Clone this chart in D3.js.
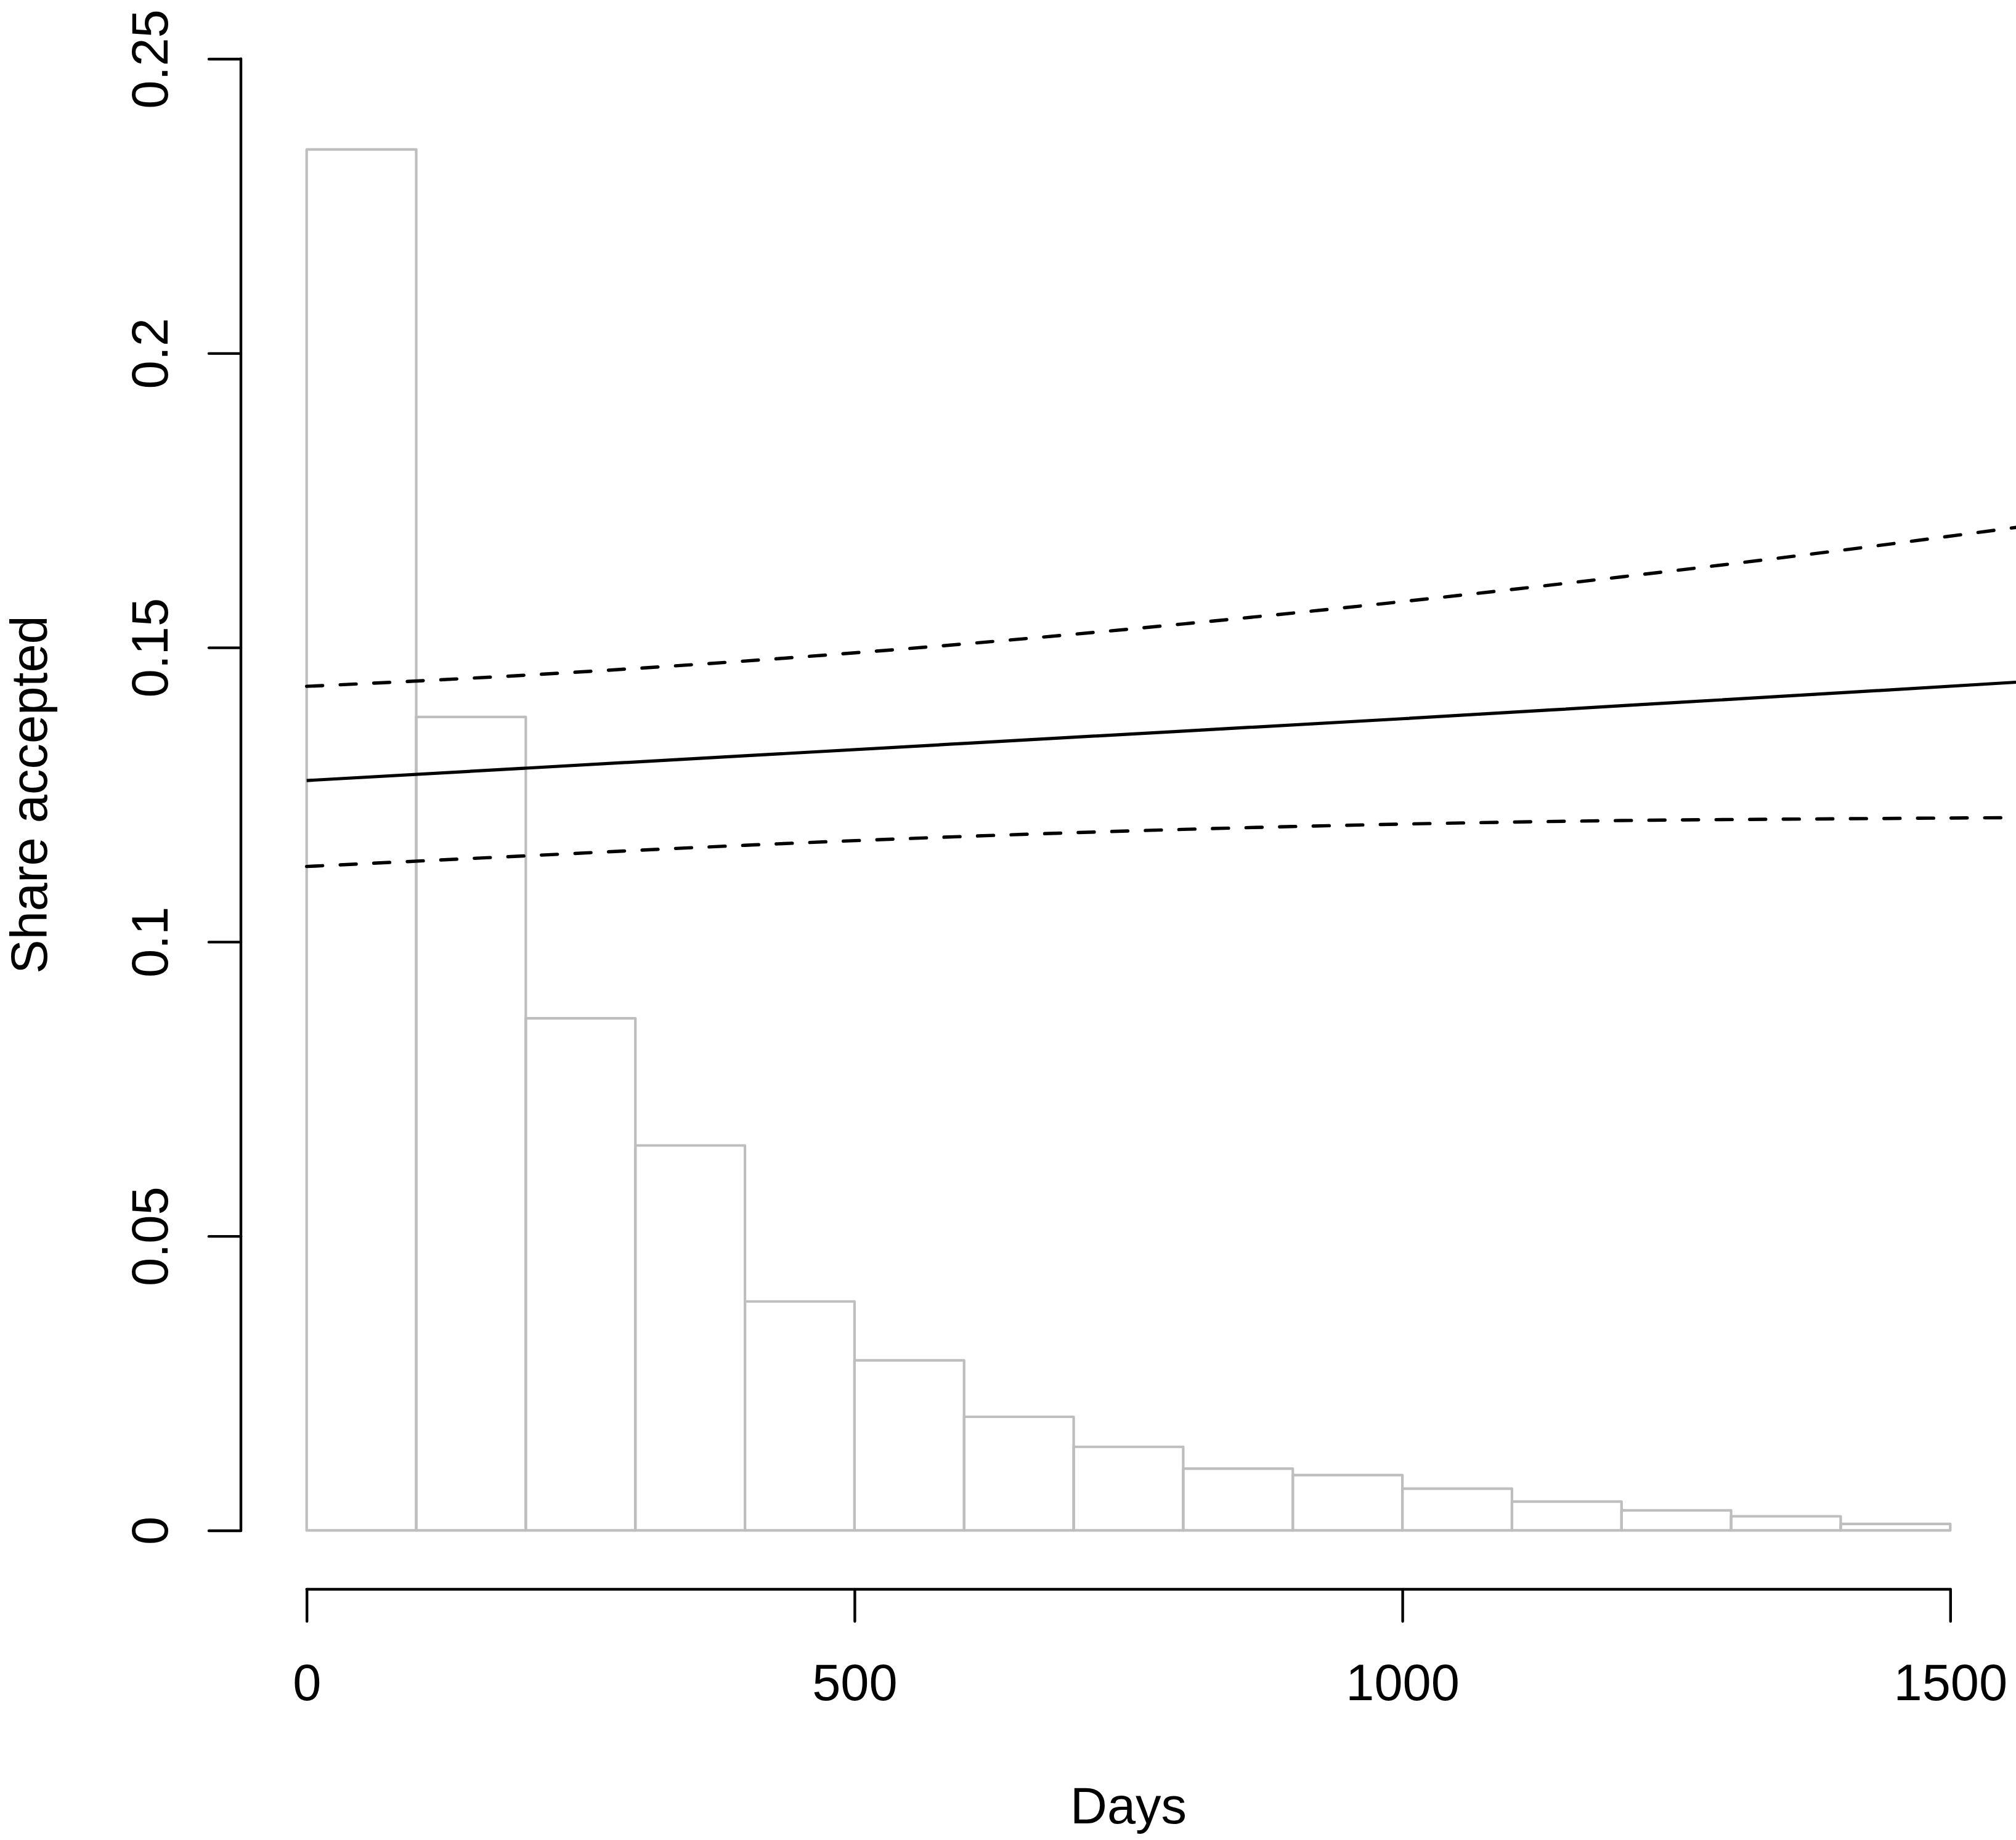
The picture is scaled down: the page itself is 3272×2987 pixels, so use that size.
<!DOCTYPE html>
<html>
<head>
    <meta charset="utf-8">
    <title>Share accepted by days</title>
    <script src="https://d3js.org/d3.v7.min.js"></script>
    <style>
        body {
            margin: 0;
            background: white;
        }
        svg {
            display: block;
            font-family: "Liberation Sans", Arial, Helvetica, sans-serif;
        }
    </style>
</head>
<body>
<svg width="3272" height="2987"></svg>

<script>
    // histogram: share of cases per 100-day bin
    let binStarts = [0, 100, 200, 300, 400, 500, 600, 700, 800, 900, 1000, 1100, 1200, 1300, 1400]
    let binShares = [0.2346, 0.1382, 0.0870, 0.0654, 0.0389, 0.0289, 0.0193, 0.0142,
                     0.0105, 0.0094, 0.0071, 0.0049, 0.0034, 0.0024, 0.0011]
    let binWidth = 100

    // fitted share with upper / lower bands
    let fitDays  = [0, 200, 400, 600, 800, 1000, 1200, 1400, 1560]
    let fitMid   = [0.1274, 0.1295, 0.1316, 0.1337, 0.1358, 0.1379, 0.1401, 0.1423, 0.1441]
    let fitUpper = [0.1434, 0.1453, 0.1477, 0.1506, 0.1540, 0.1578, 0.1620, 0.1665, 0.1704]
    let fitLower = [0.1128, 0.1146, 0.1164, 0.1179, 0.1191, 0.1200, 0.1206, 0.1209, 0.1211]

    let xTicks = [0, 500, 1000, 1500]
    let xTickLabels = ["0", "500", "1000", "1500"]
    let yTicks = [0, 0.05, 0.1, 0.15, 0.2, 0.25]
    let yTickLabels = ["0", "0.05", "0.1", "0.15", "0.2", "0.25"]

    let svg = d3.select("svg")

    let plot = { left: 391, right: 3272, top: 0, bottom: 2580 }

    let x = d3.scaleLinear()
        .domain([-60, 1560])
        .range([plot.left, plot.right])

    let y = d3.scaleLinear()
        .domain([-0.01, 0.26])
        .range([plot.bottom, plot.top])

    svg.append("clipPath")
        .attr("id", "plot-clip")
        .append("rect")
        .attr("x", plot.left)
        .attr("y", plot.top)
        .attr("width", plot.right - plot.left)
        .attr("height", plot.bottom - plot.top)

    // bars
    svg.append("g")
        .selectAll("rect")
        .data(binStarts)
        .join("rect")
        .attr("x", d => x(d))
        .attr("width", d => x(d + binWidth) - x(d))
        .attr("y", (d, i) => y(binShares[i]))
        .attr("height", (d, i) => y(0) - y(binShares[i]))
        .style("fill", "none")
        .style("stroke", "#bebebe")
        .style("stroke-width", 4.2)
        .style("stroke-linejoin", "round")

    // fitted lines
    let line = d3.line()
        .x((d, i) => x(fitDays[i]))
        .y(d => y(d))
        .curve(d3.curveMonotoneX)

    let lines = svg.append("g").attr("clip-path", "url(#plot-clip)")

    lines.append("path")
        .attr("d", line(fitMid))
        .style("fill", "none")
        .style("stroke", "black")
        .style("stroke-width", 5.2)

    lines.selectAll(".band")
        .data([fitUpper, fitLower])
        .join("path")
        .attr("class", "band")
        .attr("d", d => line(d))
        .style("fill", "none")
        .style("stroke", "black")
        .style("stroke-width", 5.4)
        .style("stroke-linecap", "round")
        .style("stroke-dasharray", "26,28.5")

    // y axis
    let yAxis = svg.append("g")
        .attr("transform", `translate(${plot.left},0)`)
        .call(d3.axisLeft(y)
            .tickValues(yTicks)
            .tickSize(52)
            .tickFormat((d, i) => yTickLabels[i]))

    yAxis.select(".domain")
        .attr("d", `M0,${y(yTicks[0])}V${y(yTicks[yTicks.length - 1])}`)

    yAxis.selectAll("text")
        .attr("transform", "rotate(-90)")
        .attr("x", 0)
        .attr("y", -119)
        .attr("dy", 0)
        .attr("text-anchor", "middle")

    // x axis
    let xAxis = svg.append("g")
        .attr("transform", `translate(0,${plot.bottom})`)
        .call(d3.axisBottom(x)
            .tickValues(xTicks)
            .tickSize(52)
            .tickFormat((d, i) => xTickLabels[i]))

    xAxis.select(".domain")
        .attr("d", `M${x(xTicks[0])},0H${x(xTicks[xTicks.length - 1])}`)

    xAxis.selectAll("text")
        .attr("y", 180)
        .attr("dy", 0)

    svg.selectAll(".domain, .tick line")
        .style("stroke", "black")
        .style("stroke-width", 4.4)
        .style("stroke-linecap", "round")

    svg.selectAll(".tick text")
        .style("font-size", "83px")
        .style("font-family", "'Liberation Sans', Arial, Helvetica, sans-serif")
        .style("fill", "black")

    // axis titles
    svg.append("text")
        .text("Days")
        .attr("x", (plot.left + plot.right) / 2)
        .attr("y", 2960)
        .attr("text-anchor", "middle")
        .attr("font-size", "83px")

    svg.append("text")
        .text("Share accepted")
        .attr("transform", `translate(76,${(plot.top + plot.bottom) / 2}) rotate(-90)`)
        .attr("text-anchor", "middle")
        .attr("font-size", "83px")
</script>
</body>
</html>
